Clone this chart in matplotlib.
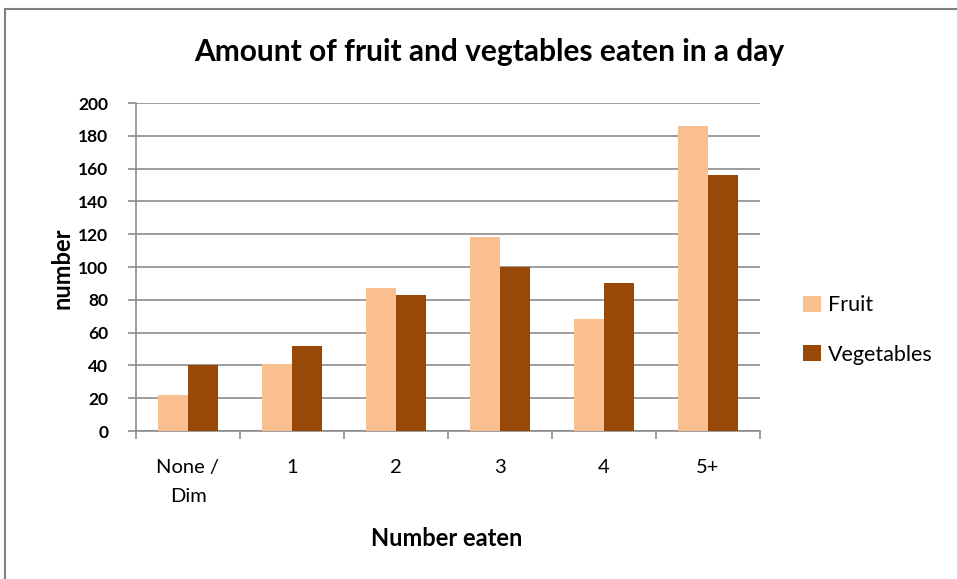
import matplotlib.pyplot as plt
import numpy as np
from matplotlib.patches import Rectangle

categories = ["None /\nDim", "1", "2", "3", "4", "5+"]
fruit = [22, 41, 87, 118, 68, 186]
vegetables = [40, 52, 83, 100, 90, 156]
yticks = [0, 20, 40, 60, 80, 100, 120, 140, 160, 180, 200]

fruit_col = '#F9BF8F'
veg_col = '#984807'
grid_col = '#8c8c8c'
font = ['Lato', 'DejaVu Sans']

fig = plt.figure(figsize=(9.57, 5.79), dpi=100)
fig.patches.append(Rectangle((5 / 957, -0.1), 1.1, (579 - 9) / 579 + 0.1,
                             transform=fig.transFigure, fill=False,
                             edgecolor='#808080', linewidth=1.5))

ax = fig.add_axes([136 / 957, 1 - 431 / 579, 624 / 957, 328 / 579])
x = np.arange(len(categories))
w = 1 / 3.5
ax.bar(x - w / 2, fruit, w, color=fruit_col, label='Fruit', zorder=3)
ax.bar(x + w / 2, vegetables, w, color=veg_col, label='Vegetables', zorder=3)

ax.set_xlim(-0.5, len(categories) - 0.5)
ax.set_ylim(0, 200)
ax.set_yticks(yticks)
ax.set_yticklabels([str(v) for v in yticks], family=font, fontsize=12.5, fontweight='bold')
ax.yaxis.grid(True, color=grid_col, linewidth=1.2, zorder=0)

ax.set_xticks(x)
ax.set_xticklabels(categories, family=font, fontsize=14.5, linespacing=1.9)
ax.set_xticks(np.arange(len(categories) + 1) - 0.5, minor=True)
ax.tick_params(axis='x', which='major', length=0, pad=20)
ax.tick_params(axis='x', which='minor', length=6, color=grid_col, width=1.2)
ax.tick_params(axis='y', length=6, color=grid_col, width=1.2, pad=14)

for s in ['top', 'right']:
    ax.spines[s].set_visible(False)
for s in ['left', 'bottom']:
    ax.spines[s].set_color(grid_col)
    ax.spines[s].set_linewidth(1.2)

fig.text(489 / 957, 1 - 52 / 579, 'Amount of fruit and vegtables eaten in a day',
         family=font, fontsize=21.5, fontweight='bold', ha='center', va='center')
fig.text(447 / 957, 1 - 538 / 579, 'Number eaten', family=font, fontsize=17,
         fontweight='bold', ha='center', va='center')
fig.text(62 / 957, 1 - 268 / 579, 'number', family=font, fontsize=17,
         fontweight='bold', ha='center', va='center', rotation=90)

ax.legend(loc='center left', bbox_to_anchor=(784 / 957, 1 - 330 / 579),
          bbox_transform=fig.transFigure, frameon=False,
          prop={'family': font, 'size': 15.5}, handlelength=0.8, handleheight=0.8,
          labelspacing=1.35, handletextpad=0.35)

fig.savefig('out.png', dpi=100)
